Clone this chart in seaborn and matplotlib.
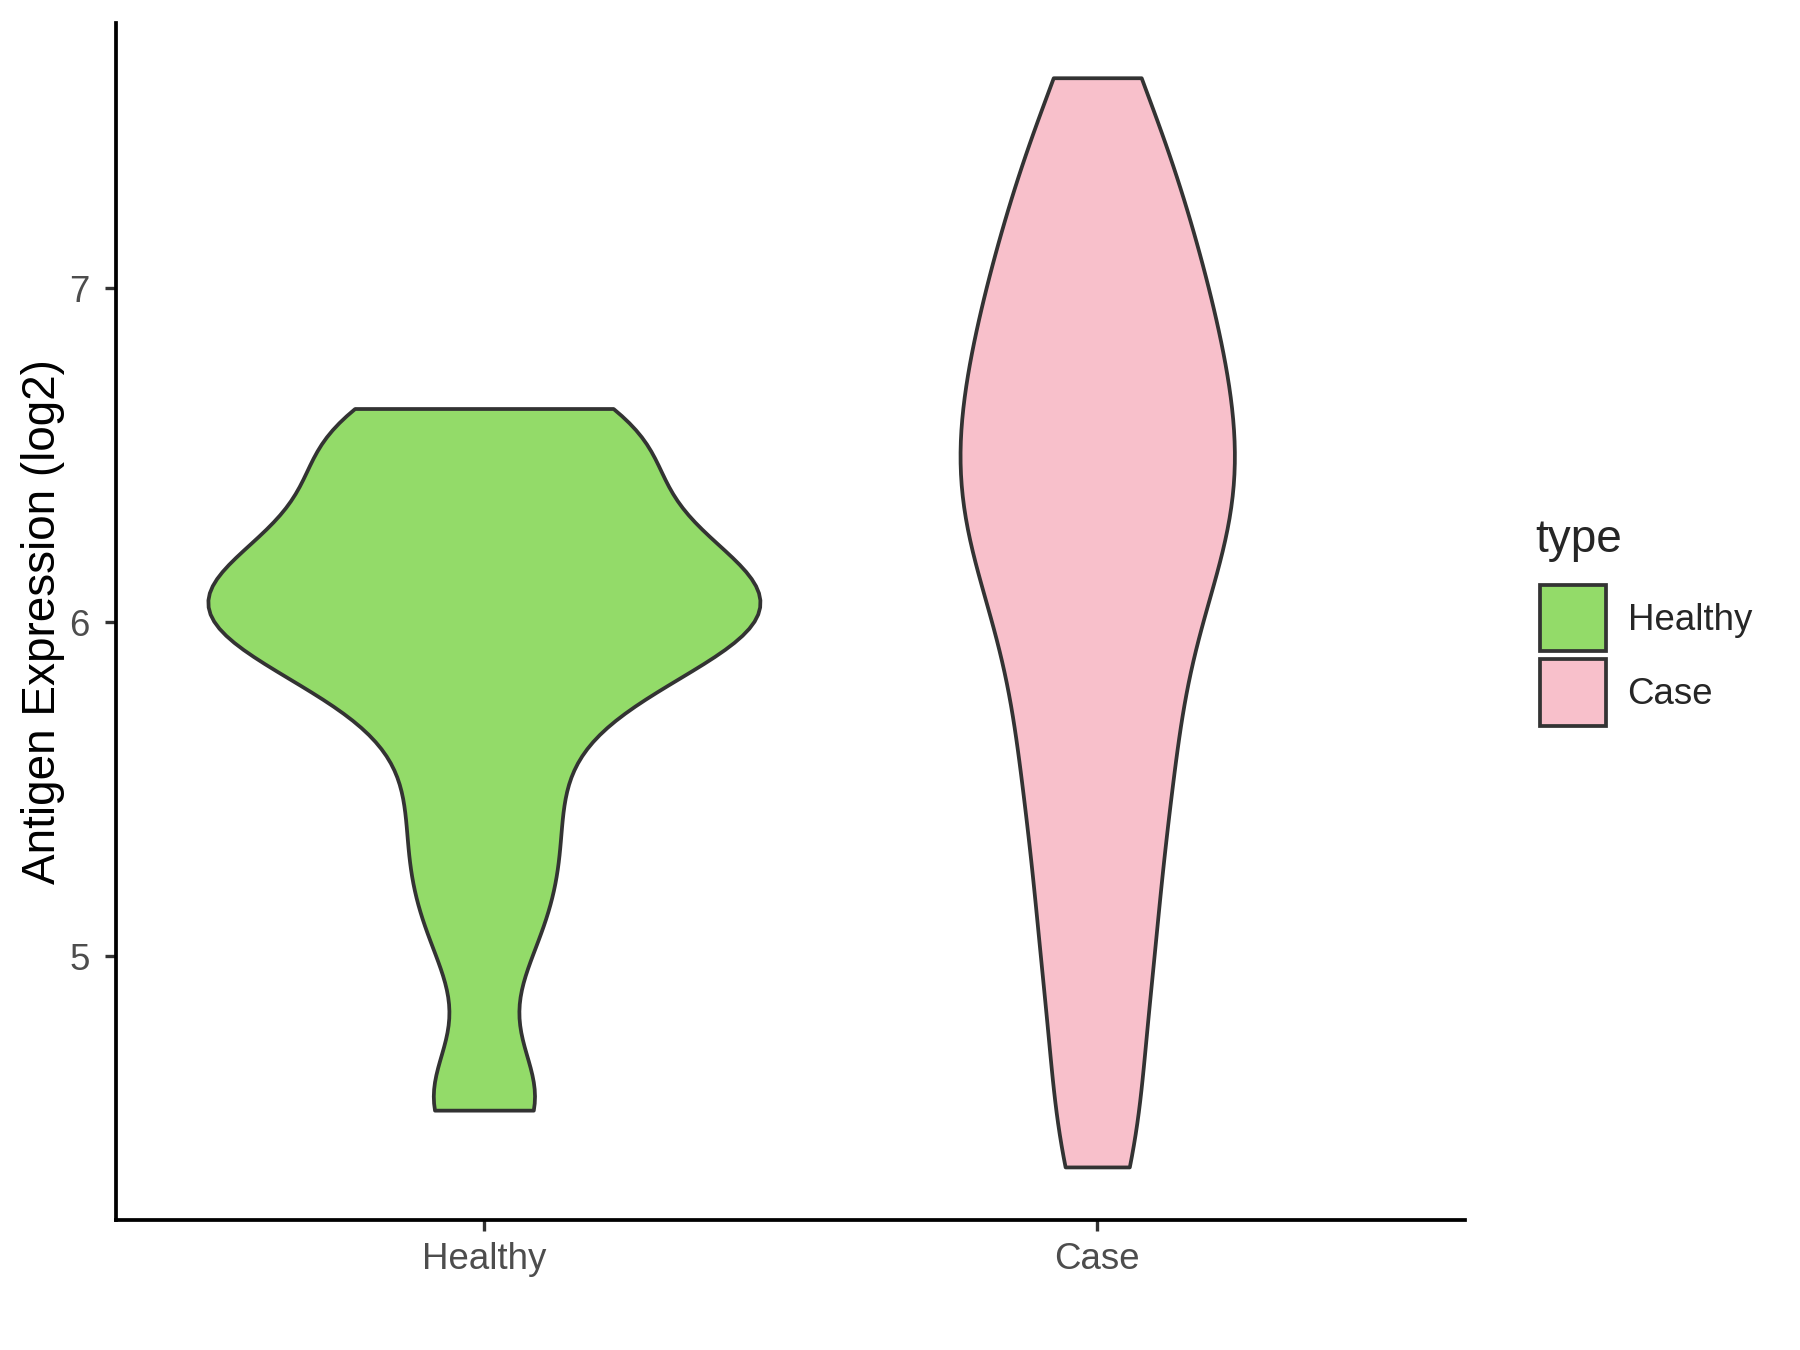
import pandas as pd
import seaborn as sns
import matplotlib.pyplot as plt

# Values (log2 antigen expression)
healthy_values = [4.54, 4.6, 5.0, 5.18, 5.3, 5.45, 5.58,
                  5.74, 5.81, 5.87, 5.92, 5.96, 5.99, 6.02, 6.05, 6.07,
                  6.09, 6.12, 6.16, 6.21, 6.26, 6.32, 6.4, 6.48,
                  6.54, 6.59, 6.62, 6.64]
case_values = [4.37, 4.58, 4.85, 5.02, 5.2, 5.38, 5.52, 5.65, 5.78,
               5.92, 6.03, 6.13, 6.21, 6.29, 6.36, 6.43, 6.5, 6.57, 6.65,
               6.73, 6.81, 6.9, 6.98, 7.08, 7.2, 7.3, 7.45, 7.63]
groups = ['Healthy', 'Case']
colors = {'Healthy': '#93DB69', 'Case': '#F8C0CB'}
y_ticks = [5, 6, 7]

df = pd.DataFrame({
    'type': ['Healthy'] * len(healthy_values) + ['Case'] * len(case_values),
    'value': healthy_values + case_values,
})

sns.set_style('white')
plt.rcParams['font.family'] = ['Liberation Sans', 'DejaVu Sans']

fig = plt.figure(figsize=(6, 4.5), dpi=300)
ax = fig.add_axes([0.0644, 0.096, 0.7496, 0.887])

sns.violinplot(data=df, x='type', y='value', hue='type', order=groups,
               hue_order=groups, palette=colors, cut=0, inner=None,
               density_norm='area', common_norm=True, width=0.9,
               bw_method=0.3, linecolor='#333333', linewidth=0.9,
               saturation=1, legend=True, ax=ax)

ax.set_xlim(-0.6, 1.6)
ax.set_ylim(4.21, 7.794)
ax.set_yticks(y_ticks)
ax.set_xlabel('')
ax.set_ylabel('Antigen Expression (log2)', fontsize=11, color='black',
              labelpad=1)
ax.tick_params(axis='both', labelsize=8.8, labelcolor='#4D4D4D',
               color='#333333', length=2.75, width=0.8, left=True, bottom=True)
ax.tick_params(axis='x', pad=2.5)
for side in ['top', 'right']:
    ax.spines[side].set_visible(False)
for side in ['left', 'bottom']:
    ax.spines[side].set_color('black')
    ax.spines[side].set_linewidth(0.9)

leg = ax.get_legend()
handles = leg.legend_handles
leg.remove()
fig.legend(handles, groups, loc='upper left',
           bbox_to_anchor=(0.837, 0.591), frameon=False, fontsize=8.8,
           handlelength=1.8, handleheight=2.4,
           labelspacing=0.22, handletextpad=0.6)
fig.text(0.853, 0.600, 'type', fontsize=11, ha='left', va='center')

fig.savefig('out.png', dpi=300)
